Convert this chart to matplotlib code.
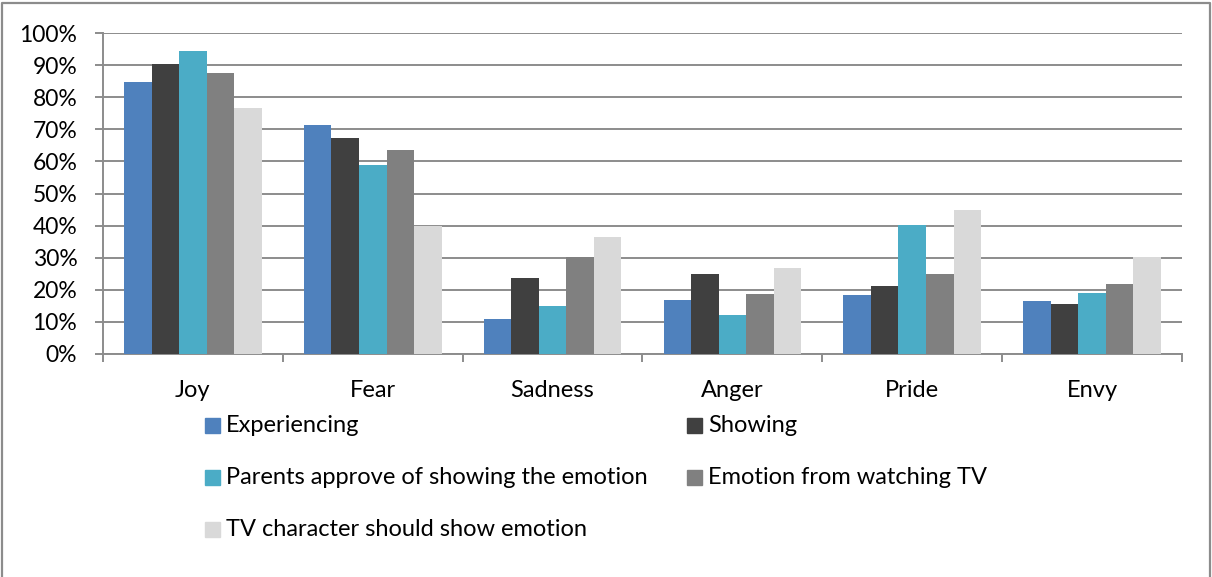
import matplotlib
matplotlib.use("Agg")
import matplotlib.pyplot as plt
from matplotlib.patches import Rectangle
from matplotlib.lines import Line2D
import numpy as np

categories = ["Joy", "Fear", "Sadness", "Anger", "Pride", "Envy"]
series_names = ["Experiencing", "Showing", "Parents approve of showing the emotion",
                "Emotion from watching TV", "TV character should show emotion"]
experiencing = [84.7, 71.2, 11.0, 16.8, 18.4, 16.5]
showing = [90.2, 67.3, 23.8, 24.9, 21.1, 15.6]
parents = [94.4, 59.0, 14.8, 12.2, 40.1, 19.0]
from_tv = [87.4, 63.4, 30.2, 18.7, 24.8, 21.7]
tv_character = [76.5, 39.8, 36.5, 26.9, 44.9, 30.1]
y_ticks = [0, 10, 20, 30, 40, 50, 60, 70, 80, 90, 100]
colors = ["#4F81BD", "#404040", "#4BACC6", "#808080", "#D9D9D9"]

series = [experiencing, showing, parents, from_tv, tv_character]

plt.rcParams['font.family'] = ['Lato', 'DejaVu Sans']
W, H = 1212, 577
fig = plt.figure(figsize=(W / 100, H / 100), dpi=100)
ax = fig.add_axes([103 / W, 1 - 354 / H, (1182 - 103) / W, (354 - 33) / H])

n = len(series)
bw = 0.153
x = np.arange(len(categories))
for i, (vals, c) in enumerate(zip(series, colors)):
    ax.bar(x + (i - (n - 1) / 2) * bw, vals, width=bw, color=c, zorder=3, linewidth=0)

ax.set_xlim(-0.5, len(categories) - 0.5)
ax.set_ylim(0, 100)
ax.set_yticks(y_ticks)
ax.set_yticklabels([f"{v}%" for v in y_ticks], fontsize=16.5)
ax.yaxis.grid(True, color="#8C8C8C", linewidth=1.4, zorder=0)
ax.set_axisbelow(True)

ax.set_xticks(x)
ax.set_xticklabels(categories, fontsize=17)
ax.tick_params(axis='x', length=0, pad=19)
ax.set_xticks(np.arange(-0.5, len(categories), 1.0), minor=True)
ax.tick_params(axis='x', which='minor', length=6, width=1.4, color="#8C8C8C")
ax.tick_params(axis='y', length=6, width=1.4, color="#8C8C8C", pad=12.5)

for s in ["top", "right"]:
    ax.spines[s].set_visible(False)
for s in ["left", "bottom"]:
    ax.spines[s].set_color("#8C8C8C")
    ax.spines[s].set_linewidth(1.4)

# Legend (manual, row-major in two columns)
positions = [(205, 425), (687, 425), (205, 477), (687, 477), (205, 529)]
for name, c, (px, py) in zip(series_names, colors, positions):
    fig.patches.append(Rectangle((px / W, 1 - (py + 7.5) / H), 15 / W, 15 / H,
                                 transform=fig.transFigure, color=c, figure=fig))
    fig.text((px + 21) / W, 1 - (py + 1) / H, name, fontsize=17, va='center', ha='left')

# outer border (left, top, right)
bx0, bx1, by = 2.5 / W, 1209.5 / W, 1 - 3 / H
fig.lines.append(Line2D([bx0, bx0, bx1, bx1], [0, by, by, 0], transform=fig.transFigure,
                        color="#8C8C8C", linewidth=1.6, figure=fig))

fig.savefig("out.png", dpi=100)
